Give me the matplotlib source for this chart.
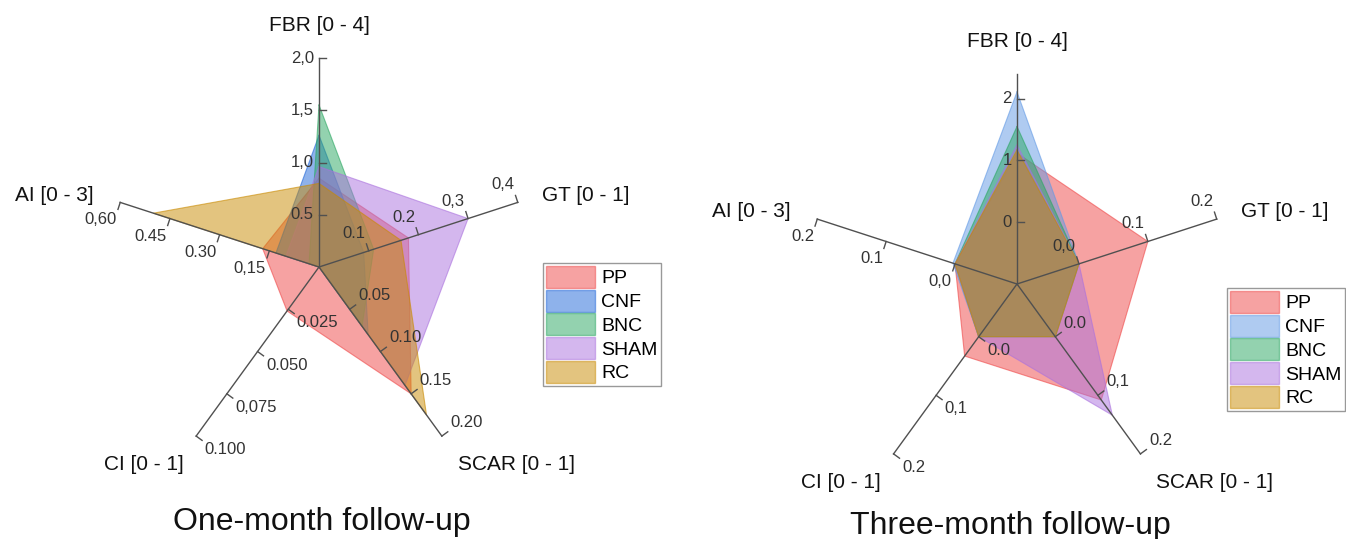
import numpy as np
import matplotlib.pyplot as plt
from matplotlib.patches import Patch

plt.rcParams['font.family'] = ['Liberation Sans', 'DejaVu Sans']

W_PX, H_PX = 1346, 539

spokes = ['FBR [0 - 4]', 'GT [0 - 1]', 'SCAR [0 - 1]', 'CI [0 - 1]', 'AI [0 - 3]']
spoke_deg = [90, 18, -54, -126, 162]
groups = ['PP', 'CNF', 'BNC', 'SHAM', 'RC']

# one-month follow-up (values in spoke order: FBR, GT, SCAR, CI, AI)
m1_pp = [0.85, 0.18, 0.150, 0.026, 0.17]
m1_cnf = [1.26, 0.09, 0.08, 0.0, 0.13]
m1_bnc = [1.55, 0.11, 0.07, 0.0, 0.03]
m1_sham = [0.96, 0.30, 0.140, 0.0, 0.10]
m1_rc = [0.80, 0.165, 0.175, 0.0, 0.50]
m1_min = [0, 0, 0, 0, 0]
m1_max = [2.0, 0.4, 0.20, 0.100, 0.60]
m1_ticks = [[0.5, 1.0, 1.5, 2.0], [0.1, 0.2, 0.3, 0.4], [0.05, 0.10, 0.15, 0.20],
            [0.025, 0.050, 0.075, 0.100], [0.15, 0.30, 0.45, 0.60]]
m1_ticklabels = [['0.5', '1,0', '1,5', '2,0'], ['0.1', '0.2', '0,3', '0,4'],
                 ['0.05', '0.10', '0.15', '0.20'], ['0.025', '0.050', '0,075', '0.100'],
                 ['0,15', '0.30', '0.45', '0,60']]

# three-month follow-up
m3_pp = [1.12, 0.10, 0.108, 0.033, 0.0]
m3_cnf = [2.11, 0.0, 0.0, 0.0, 0.003]
m3_bnc = [1.55, 0.0, 0.0, 0.0, 0.0]
m3_sham = [1.25, 0.0, 0.134, 0.0, 0.0]
m3_rc = [1.17, 0.0, 0.0, 0.0, 0.0]
m3_min = [-1.0, -0.09, -0.09, -0.09, -0.09]
m3_max = [2.4, 0.2, 0.2, 0.2, 0.2]
m3_ticks = [[0, 1, 2], [0.0, 0.1, 0.2], [0.0, 0.1, 0.2], [0.0, 0.1, 0.2], [0.0, 0.1, 0.2]]
m3_ticklabels = [['0', '1', '2'], ['0,0', '0.1', '0.2'], ['0.0', '0,1', '0.2'],
                 ['0.0', '0,1', '0.2'], ['0,0', '0.1', '0.2']]

colors_m1 = ['#ef4747', '#1f66d8', '#29a660', '#aa71de', '#c98a00']
colors_m3 = ['#ef4747', '#6199e5', '#29a660', '#aa71de', '#c98a00']

# where the spoke titles sit relative to the spoke end, and how they align
title_off = [(0, 0.155), (0.115, 0.035), (0.075, -0.134), (-0.06, -0.134), (-0.125, 0.035)]
title_ha = ['center', 'left', 'left', 'right', 'right']
tick_side = [-1, 1, 1, 1, 1]


def radar(ax, series, vmin, vmax, ticks, ticklabels, colors):
    ang = np.deg2rad(spoke_deg)
    ux, uy = np.cos(ang), np.sin(ang)
    vmin = np.array(vmin, float)
    vmax = np.array(vmax, float)
    for vals, col in zip(series, colors):
        r = (np.array(vals) - vmin) / (vmax - vmin)
        xs, ys = r * ux, r * uy
        ax.fill(xs, ys, facecolor=col, alpha=0.5, edgecolor='none', zorder=2)
        ax.plot(np.append(xs, xs[0]), np.append(ys, ys[0]), color=col, lw=0.8,
                alpha=0.6, zorder=2)
    for i in range(5):
        ax.plot([0, ux[i]], [0, uy[i]], color='#505050', lw=1.0, zorder=3)
        # ccw perpendicular = label side
        px, py = -uy[i], ux[i]
        tx, ty = px * tick_side[i], py * tick_side[i]
        d = 0.025 if i == 0 else 0.05
        ha = 'left' if px > 0.3 else ('right' if px < -0.3 else 'center')
        va = 'bottom' if py > 0.3 else ('top' if py < -0.3 else 'center')
        for t, lab in zip(ticks[i], ticklabels[i]):
            r = (t - vmin[i]) / (vmax[i] - vmin[i])
            bx, by = r * ux[i], r * uy[i]
            ax.plot([bx, bx + 0.035 * tx], [by, by + 0.035 * ty], color='#505050',
                    lw=1.0, zorder=3)
            ax.text(bx + d * px, by + d * py, lab, fontsize=12, color='#333333',
                    ha=ha, va=va, zorder=4)
        ox, oy = title_off[i]
        ax.text(ux[i] + ox, uy[i] + oy, spokes[i], fontsize=15, color='#111111',
                ha=title_ha[i], va='center')


def make_axes(fig, cx, cy, R, S=300):
    ax = fig.add_axes([(cx - S) / W_PX, 1 - (cy + S) / H_PX, 2 * S / W_PX, 2 * S / H_PX])
    ax.set_xlim(-S / R, S / R)
    ax.set_ylim(-S / R, S / R)
    ax.axis('off')
    return ax


fig = plt.figure(figsize=(W_PX / 100, H_PX / 100), dpi=100)

ax1 = make_axes(fig, 319, 267, 209)
radar(ax1, [m1_pp, m1_cnf, m1_bnc, m1_sham, m1_rc], m1_min, m1_max,
      m1_ticks, m1_ticklabels, colors_m1)

ax2 = make_axes(fig, 1017, 284, 210)
radar(ax2, [m3_pp, m3_cnf, m3_bnc, m3_sham, m3_rc], m3_min, m3_max,
      m3_ticks, m3_ticklabels, colors_m3)


def add_legend(colors, x, y):
    handles = [Patch(facecolor=c, edgecolor=c, alpha=0.5, label=g)
               for g, c in zip(groups, colors)]
    leg = fig.legend(handles=handles, loc='upper left',
                     bbox_to_anchor=(x / W_PX, 1 - y / H_PX), fontsize=14,
                     frameon=True, fancybox=False, framealpha=1, borderpad=0.15,
                     handlelength=2.5, handleheight=1.35, labelspacing=0.1,
                     handletextpad=0.35, borderaxespad=0)
    leg.get_frame().set_edgecolor('#999999')
    leg.get_frame().set_linewidth(1.0)


add_legend(colors_m1, 543, 263)
add_legend(colors_m3, 1227, 288)

fig.text(322 / W_PX, 1 - 522 / H_PX, 'One-month follow-up', fontsize=23,
         ha='center', va='center', color='#111111')
fig.text(1010 / W_PX, 1 - 526 / H_PX, 'Three-month follow-up', fontsize=23,
         ha='center', va='center', color='#111111')

fig.savefig('out.png', dpi=100)
